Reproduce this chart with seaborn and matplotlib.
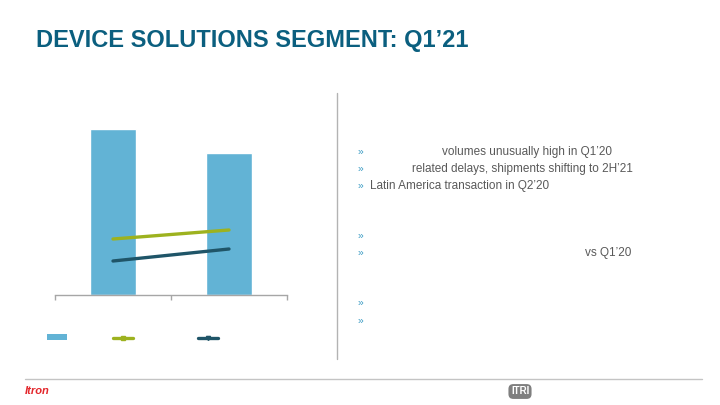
import matplotlib
matplotlib.use("Agg")
import matplotlib.pyplot as plt
import seaborn as sns
from matplotlib.lines import Line2D
from matplotlib.patches import Patch

# -----------------------------
# Data
# -----------------------------
periods = ["Q1'20", "Q1'21"]
revenue = [166, 142]
gross_margin = [56, 65]
operating_margin = [34, 46]

bullets = [
    "volumes unusually high in Q1\u201920",
    "related delays, shipments shifting to 2H\u201921",
    "Latin America transaction in Q2\u201920",
    "",
    "vs Q1\u201920",
    "",
    "",
]
bullet_x = [442, 412, 370, 370, 585, 370, 370]
bullet_y = [152, 169, 186, 236, 253, 303, 321]

bar_color = "#62B3D5"
gm_color = "#9DB21F"
om_color = "#1F5568"
title_color = "#0B5F7F"
text_color = "#595959"
bullet_color = "#3C9CC4"

sns.set_theme(style="white")
plt.rcParams["font.family"] = ["Liberation Sans", "DejaVu Sans"]

W, H = 720, 405
fig = plt.figure(figsize=(7.2, 4.05), dpi=100)
fig.patch.set_facecolor("white")

# -----------------------------
# Chart
# -----------------------------
ax = fig.add_axes([55 / W, 1 - 295 / H, 232 / W, 200 / H])
sns.barplot(x=periods, y=revenue, color=bar_color, width=0.4, saturation=1, ax=ax)
sns.lineplot(x=[0, 1], y=gross_margin, color=gm_color, linewidth=2.4, ax=ax)
sns.lineplot(x=[0, 1], y=operating_margin, color=om_color, linewidth=2.4, ax=ax)
ax.set_xlim(-0.5, 1.5)
ax.set_ylim(0, 200)
ax.set_xticks([-0.5, 0.5, 1.5])
ax.set_xticklabels(["", "", ""])
ax.set_yticks([])
ax.set_xlabel("")
ax.set_ylabel("")
ax.tick_params(axis="x", bottom=True, length=3.5, width=1, color="#A6A6A6", direction="out")
for side in ["top", "right", "left"]:
    ax.spines[side].set_visible(False)
ax.spines["bottom"].set_color("#A6A6A6")
ax.spines["bottom"].set_linewidth(1)

# legend entries (labels left blank as on the slide)
handles = [
    Patch(facecolor=bar_color, edgecolor="none"),
    Line2D([], [], color=gm_color, linewidth=2.4, marker="s", markersize=3),
    Line2D([], [], color=om_color, linewidth=2.4, marker="v", markersize=3),
]
legend_x = [47, 113, 198]
for h, lx in zip(handles, legend_x):
    fig.legend(handles=[h], labels=[""], loc="center left",
               bbox_to_anchor=(lx / W, 1 - 338 / H), frameon=False,
               borderpad=0, borderaxespad=0, handlelength=1.8,
               handleheight=0.35, handletextpad=0, fontsize=8)

# -----------------------------
# Title and commentary
# -----------------------------
fig.text(36 / W, 1 - 41 / H, "DEVICE SOLUTIONS SEGMENT: Q1\u201921",
         fontsize=17, fontweight="bold", color=title_color, va="center", ha="left")

fig.add_artist(Line2D([337 / W, 337 / W], [1 - 93 / H, 1 - 359 / H],
                      color="#B3B3B3", linewidth=1))

for txt, tx, ty in zip(bullets, bullet_x, bullet_y):
    fig.text(358 / W, 1 - ty / H, "\u00bb", fontsize=7.5, color=bullet_color,
             va="center", ha="left")
    if txt:
        fig.text(tx / W, 1 - ty / H, txt, fontsize=8.5, color=text_color,
                 va="center", ha="left")

# -----------------------------
# Footer
# -----------------------------
fig.add_artist(Line2D([25 / W, 702 / W], [1 - 379 / H, 1 - 379 / H],
                      color="#C4C4C4", linewidth=1))
fig.text(25 / W, 1 - 391 / H, "Itron", fontsize=8, fontweight="bold",
         fontstyle="italic", color="#E3262B", va="center", ha="left")
fig.text(520 / W, 1 - 391.5 / H, "ITRI", fontsize=7, fontweight="bold",
         color="white", va="center", ha="center",
         bbox=dict(boxstyle="round,pad=0.25,rounding_size=0.5",
                   facecolor="#7F7F7F", edgecolor="none"))

fig.savefig("out.png", dpi=100, facecolor="white")
